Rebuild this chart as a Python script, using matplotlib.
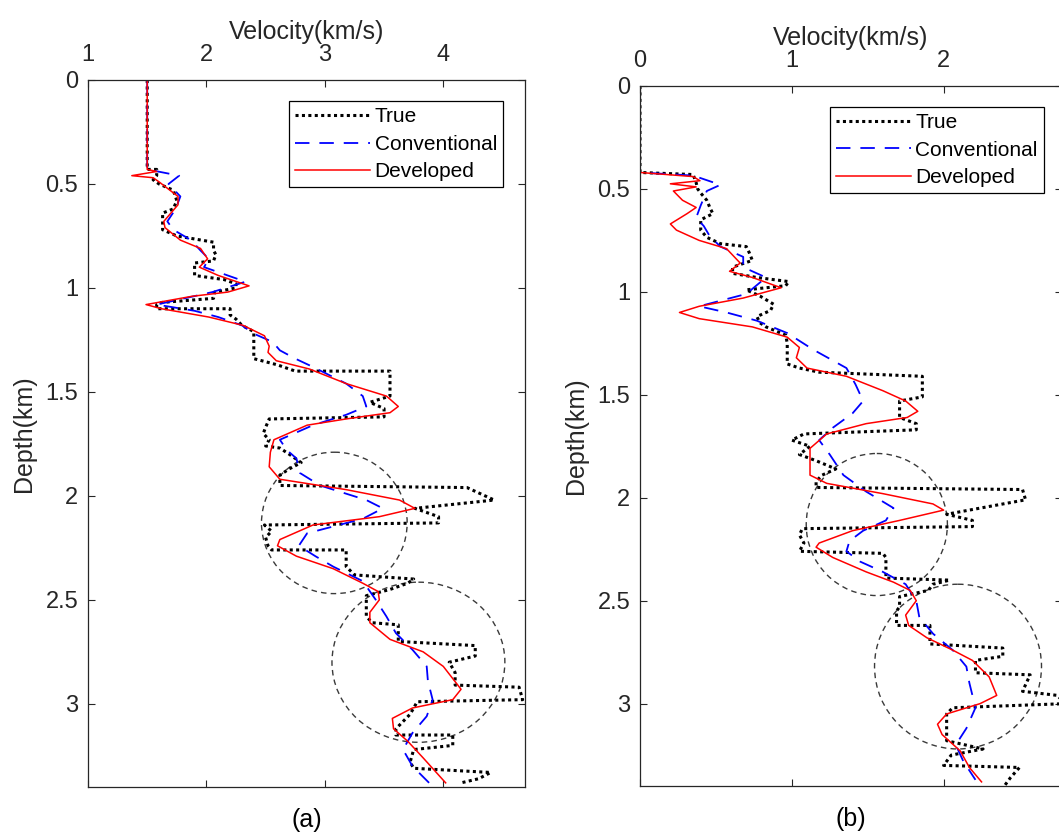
import matplotlib
matplotlib.use("Agg")
import matplotlib.pyplot as plt
from matplotlib.patches import Ellipse

plt.rcParams['font.family'] = ['Liberation Sans', 'DejaVu Sans']

# ---------------- Panel (a) data: (depth km, velocity km/s) ----------------
a_true_depth = [0, 0.43, 0.43, 0.46, 0.48, 0.50, 0.53, 0.58, 0.62, 0.64, 0.72, 0.75, 0.78, 0.82, 0.84, 0.87,
                0.88, 0.94, 0.96, 0.98, 1.00, 1.02, 1.05, 1.07, 1.08, 1.10, 1.10, 1.13, 1.15, 1.18, 1.21,
                1.22, 1.34, 1.37, 1.40, 1.40, 1.52, 1.55, 1.58, 1.62, 1.63, 1.67, 1.70, 1.73, 1.76, 1.77,
                1.80, 1.84, 1.87, 1.90, 1.95, 1.96, 2.02, 2.06, 2.10, 2.13, 2.14, 2.17, 2.20, 2.24, 2.26,
                2.26, 2.34, 2.38, 2.40, 2.42, 2.45, 2.48, 2.50, 2.58, 2.61, 2.62, 2.70, 2.72, 2.77, 2.80,
                2.85, 2.91, 2.92, 2.98, 2.99, 3.05, 3.12, 3.15, 3.15, 3.20, 3.22, 3.28, 3.31, 3.33, 3.36, 3.38]
a_true_vel = [1.5, 1.5, 1.58, 1.58, 1.55, 1.6, 1.72, 1.75, 1.72, 1.63, 1.63, 1.75, 2.06, 2.06, 2.08, 2.06,
              1.9, 1.9, 2.15, 2.25, 2.25, 2.07, 2.06, 1.62, 1.58, 1.58, 2.2, 2.2, 2.25, 2.3, 2.4,
              2.4, 2.4, 2.6, 2.75, 3.55, 3.55, 3.38, 3.5, 3.5, 2.53, 2.5, 2.48, 2.53, 2.5, 2.62,
              2.7, 2.8, 2.7, 2.62, 2.62, 4.2, 4.43, 3.76, 3.96, 3.96, 2.49, 2.55, 2.5, 2.52, 2.55,
              3.18, 3.18, 3.25, 3.75, 3.7, 3.55, 3.35, 3.35, 3.35, 3.4, 3.62, 3.62, 4.27, 4.27, 4.05,
              4.1, 4.1, 4.64, 4.67, 3.78, 3.72, 3.6, 3.6, 4.08, 4.08, 3.75, 3.72, 3.75, 4.4, 4.3, 4.15]

a_conv_depth = [0, 0.43, 0.46, 0.50, 0.56, 0.62, 0.68, 0.72, 0.77, 0.82, 0.86, 0.90, 0.97, 1.02, 1.08, 1.11,
                1.14, 1.18, 1.22, 1.26, 1.30, 1.34, 1.38, 1.46, 1.52, 1.57, 1.61, 1.66, 1.73, 1.78, 1.82,
                1.89, 1.95, 2.02, 2.06, 2.11, 2.18, 2.24, 2.29, 2.34, 2.41, 2.50, 2.58, 2.66, 2.74, 2.82,
                2.89, 2.98, 3.06, 3.14, 3.22, 3.30, 3.38]
a_conv_vel = [1.5, 1.5, 1.77, 1.68, 1.78, 1.74, 1.67, 1.72, 1.87, 1.95, 2.02, 1.98, 2.33, 2.05, 1.58, 1.9,
              2.1, 2.3, 2.4, 2.56, 2.62, 2.75, 2.9, 3.18, 3.32, 3.35, 3.18, 2.9, 2.62, 2.68, 2.76,
              2.79, 2.96, 3.35, 3.49, 3.32, 2.85, 2.78, 2.92, 3.07, 3.32, 3.43, 3.52, 3.60, 3.74, 3.86,
              3.87, 3.91, 3.86, 3.74, 3.66, 3.74, 3.88]

a_dev_depth = [0, 0.43, 0.44, 0.46, 0.47, 0.49, 0.56, 0.60, 0.64, 0.68, 0.71, 0.77, 0.81, 0.86, 0.90, 0.94,
               0.99, 1.02, 1.04, 1.08, 1.10, 1.14, 1.18, 1.23, 1.28, 1.31, 1.35, 1.39, 1.46, 1.52, 1.57,
               1.60, 1.63, 1.66, 1.73, 1.79, 1.86, 1.92, 1.97, 2.02, 2.06, 2.10, 2.14, 2.21, 2.24, 2.29,
               2.35, 2.42, 2.46, 2.50, 2.56, 2.61, 2.69, 2.75, 2.82, 2.93, 2.98, 3.02, 3.07, 3.12, 3.18,
               3.26, 3.38]
a_dev_vel = [1.5, 1.5, 1.58, 1.37, 1.55, 1.6, 1.76, 1.76, 1.70, 1.64, 1.65, 1.78, 1.95, 2.01, 1.94, 2.1,
             2.36, 2.18, 1.88, 1.49, 1.62, 2.02, 2.31, 2.49, 2.53, 2.52, 2.59, 2.87, 3.18, 3.52, 3.62,
             3.55, 3.18, 2.85, 2.57, 2.54, 2.53, 2.62, 3.18, 3.63, 3.76, 3.46, 2.9, 2.62, 2.6, 2.76,
             3.07, 3.32, 3.45, 3.46, 3.38, 3.38, 3.55, 3.83, 4.0, 4.15, 4.08, 3.74, 3.57, 3.58, 3.7,
             3.83, 4.02]

# ---------------- Panel (b) data ----------------
b_true_depth = [0, 0.42, 0.43, 0.47, 0.50, 0.52, 0.555, 0.59, 0.62, 0.65, 0.70, 0.735, 0.766, 0.78, 0.81, 0.847,
                0.88, 0.91, 0.93, 0.95, 0.97, 0.99, 1.02, 1.06, 1.09, 1.12, 1.15, 1.17, 1.21, 1.25, 1.35,
                1.37, 1.39, 1.41, 1.51, 1.53, 1.61, 1.64, 1.67, 1.69, 1.72, 1.75, 1.79, 1.82, 1.86, 1.89,
                1.92, 1.95, 1.96, 2.01, 2.08, 2.11, 2.14, 2.15, 2.18, 2.22, 2.26, 2.27, 2.29, 2.39, 2.40,
                2.42, 2.45, 2.48, 2.53, 2.55, 2.62, 2.62, 2.71, 2.73, 2.77, 2.79, 2.85, 2.86, 2.94, 2.96,
                3.00, 3.02, 3.05, 3.18, 3.22, 3.25, 3.30, 3.31, 3.36, 3.40]
b_true_vel = [0, 0, 0.35, 0.37, 0.38, 0.40, 0.44, 0.46, 0.48, 0.40, 0.40, 0.44, 0.53, 0.70, 0.72, 0.74,
              0.61, 0.61, 0.77, 0.98, 0.96, 0.70, 0.79, 0.88, 0.86, 0.77, 0.79, 0.83, 0.96, 0.97, 0.97,
              1.05, 1.18, 1.86, 1.86, 1.71, 1.71, 1.82, 1.82, 1.08, 1.0, 1.12, 1.05, 1.16, 1.29, 1.2,
              1.16, 1.16, 2.52, 2.54, 2.02, 2.19, 2.19, 1.07, 1.05, 1.08, 1.05, 1.6, 1.62, 1.62, 2.04,
              1.93, 1.9, 1.71, 1.71, 1.69, 1.69, 1.91, 1.91, 2.39, 2.39, 2.21, 2.21, 2.57, 2.52, 2.75,
              2.8, 2.06, 2.02, 2.02, 2.26, 2.05, 2.0, 2.5, 2.44, 2.4]

b_conv_depth = [0, 0.42, 0.435, 0.48, 0.51, 0.58, 0.64, 0.68, 0.73, 0.78, 0.83, 0.88, 0.93, 1.01, 1.07, 1.10,
                1.14, 1.20, 1.28, 1.37, 1.45, 1.53, 1.59, 1.66, 1.72, 1.79, 1.89, 1.97, 2.05, 2.11, 2.16,
                2.21, 2.26, 2.31, 2.36, 2.42, 2.50, 2.58, 2.66, 2.74, 2.82, 2.90, 3.02, 3.12, 3.20, 3.28, 3.37]
b_conv_vel = [0, 0, 0.35, 0.53, 0.44, 0.40, 0.37, 0.42, 0.46, 0.53, 0.68, 0.68, 0.83, 0.70, 0.39, 0.57,
              0.77, 0.97, 1.14, 1.36, 1.42, 1.47, 1.40, 1.27, 1.18, 1.25, 1.34, 1.49, 1.67, 1.62, 1.47,
              1.38, 1.36, 1.45, 1.6, 1.75, 1.82, 1.84, 1.93, 2.06, 2.15, 2.17, 2.21, 2.15, 2.08, 2.13, 2.21]

b_dev_depth = [0, 0.42, 0.44, 0.46, 0.475, 0.49, 0.51, 0.555, 0.59, 0.62, 0.67, 0.70, 0.75, 0.79, 0.86, 0.90,
               0.93, 0.98, 1.03, 1.07, 1.10, 1.13, 1.17, 1.22, 1.27, 1.32, 1.37, 1.41, 1.48, 1.53, 1.58,
               1.61, 1.64, 1.69, 1.76, 1.82, 1.89, 1.93, 1.98, 2.03, 2.06, 2.11, 2.16, 2.22, 2.24, 2.29,
               2.36, 2.41, 2.45, 2.50, 2.57, 2.62, 2.68, 2.74, 2.79, 2.87, 2.96, 3.00, 3.05, 3.10, 3.15,
               3.23, 3.31, 3.38]
b_dev_vel = [0, 0, 0.35, 0.395, 0.2, 0.37, 0.22, 0.28, 0.37, 0.31, 0.2, 0.24, 0.39, 0.57, 0.66, 0.59,
             0.74, 0.93, 0.68, 0.39, 0.26, 0.39, 0.74, 0.97, 1.05, 1.03, 1.1, 1.36, 1.6, 1.75, 1.83,
             1.76, 1.49, 1.23, 1.12, 1.12, 1.12, 1.23, 1.6, 1.93, 2.0, 1.71, 1.4, 1.18, 1.16, 1.27,
             1.49, 1.67, 1.78, 1.82, 1.75, 1.77, 1.89, 2.06, 2.19, 2.30, 2.35, 2.24, 2.02, 1.96, 1.99,
             2.11, 2.17, 2.25]

# highlight circles: (center velocity, center depth, width in velocity, height in depth)
a_circles = [(3.08, 2.13, 1.23, 0.68), (3.79, 2.80, 1.46, 0.77)]
b_circles = [(1.56, 2.13, 0.93, 0.69), (2.095, 2.82, 1.10, 0.80)]

a_xticks = [1, 2, 3, 4]
b_xticks = [0, 1, 2]
yticks = [0, 0.5, 1, 1.5, 2, 2.5, 3]
ytick_labels = ['0', '0.5', '1', '1.5', '2', '2.5', '3']
legend_labels = ['True', 'Conventional', 'Developed']

GRAY = '#262626'

fig = plt.figure(figsize=(10.59, 8.36), dpi=100)
W, H = 1059, 836
ax1 = fig.add_axes([88 / W, 1 - 787 / H, (525 - 88) / W, (787 - 80) / H])
ax2 = fig.add_axes([640 / W, 1 - 786 / H, (1062 - 640) / W, (786 - 86) / H])


def draw(ax, td, tv, cd, cv, dd, dv, circles, xlim, xticks, letter, leg_anchor):
    ax.plot(tv, td, color='black', lw=2.2, linestyle=(0, (1, 1.1)), label=legend_labels[0])
    ax.plot(cv, cd, color='#0000ff', lw=1.3, linestyle=(0, (8, 5.5)), label=legend_labels[1])
    ax.plot(dv, dd, color='#ff0000', lw=1.1, label=legend_labels[2])
    for (cx, cy, w, h) in circles:
        ax.add_patch(Ellipse((cx, cy), w, h, fill=False, edgecolor='#3a3a3a',
                             lw=1.0, linestyle=(0, (4, 3))))
    ax.set_xlim(*xlim)
    ax.set_ylim(3.4, 0)
    ax.set_xticks(xticks)
    ax.set_yticks(yticks)
    ax.set_yticklabels(ytick_labels)
    ax.xaxis.set_label_position('top')
    ax.set_xlabel('Velocity(km/s)', fontsize=18, color=GRAY, labelpad=4)
    ax.set_ylabel('Depth(km)', fontsize=18, color=GRAY, labelpad=7)
    ax.tick_params(axis='both', direction='in', top=True, right=True, length=5, width=0.8,
                   colors=GRAY, labelsize=17)
    ax.tick_params(axis='x', labeltop=True, labelbottom=False, pad=10)
    ax.tick_params(axis='y', pad=7)
    for s in ax.spines.values():
        s.set_color(GRAY)
        s.set_linewidth(0.9)
    leg = ax.legend(loc='upper right', bbox_to_anchor=leg_anchor, fontsize=15, frameon=True,
                    fancybox=False, framealpha=1, edgecolor='black', borderpad=0.3,
                    labelspacing=0.4, handlelength=3.6, handletextpad=0.2, borderaxespad=0)
    leg.get_frame().set_linewidth(0.9)
    ax.text(0.5, -0.047, letter, transform=ax.transAxes, ha='center', va='center',
            fontsize=18, color='black')


draw(ax1, a_true_depth, a_true_vel, a_conv_depth, a_conv_vel, a_dev_depth, a_dev_vel,
     a_circles, (1, 4.69), a_xticks, '(a)', (0.95, 0.97))
draw(ax2, b_true_depth, b_true_vel, b_conv_depth, b_conv_vel, b_dev_depth, b_dev_vel,
     b_circles, (0, 2.78), b_xticks, '(b)', (0.957, 0.97))

fig.savefig('out.png', dpi=100)
